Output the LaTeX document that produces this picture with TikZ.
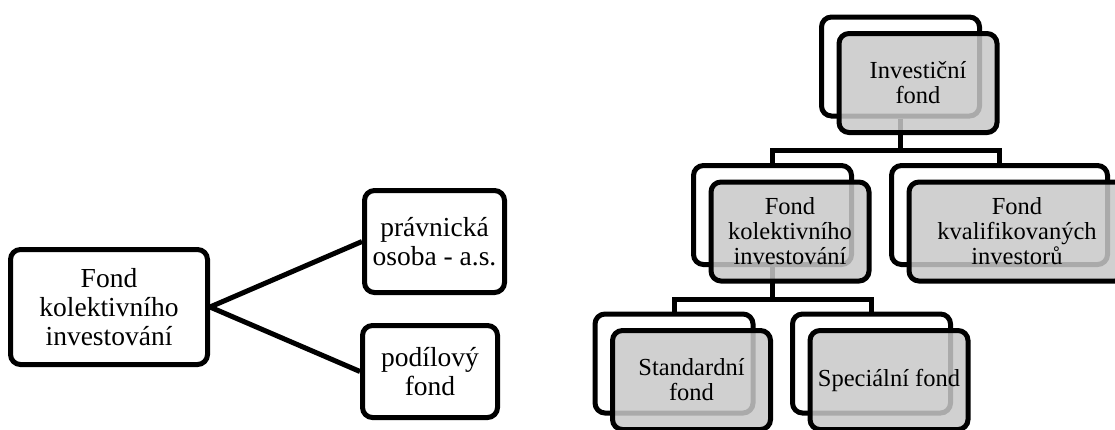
\documentclass[tikz,border=0pt]{standalone}
\usepackage{fontspec}
\setmainfont{Liberation Serif}
\begin{document}
\begin{tikzpicture}[x=1pt,y=-1pt,
  box/.style={draw, line width=5pt, rounded corners=10pt, inner sep=0pt, align=center},
  leftbox/.style={box, fill=white, font=\fontsize{27.5}{29}\selectfont},
  backbox/.style={box, minimum width=158pt, minimum height=99pt},
  frontbox/.style={box, minimum width=158pt, minimum height=99pt,
    fill={rgb,255:red,200;green,200;blue,200}, fill opacity=0.85, text opacity=1,
    font=\fontsize{24.5}{25}\selectfont},
  conn/.style={line width=5pt}]
\clip (0,0) rectangle (1115,429);
% left diagram
\node[leftbox, minimum width=197pt, minimum height=115pt] (fki) at (109,307) {Fond\\kolektivního\\investování};
\node[leftbox, minimum width=140pt, minimum height=102pt] (po) at (434.5,241.5) {právnická\\osoba - a.s.};
\node[leftbox, minimum width=135pt, minimum height=92pt] (pf) at (430,371.5) {podílový\\fond};
\draw[conn] (fki.east) -- (po.west);
\draw[conn] (fki.east) -- (pf.west);
% right diagram: back boxes
\node[backbox] (b1) at (900.5,66.5) {};
\node[backbox] (b2) at (772.5,215) {};
\node[backbox, minimum width=216pt] (b3) at (999.5,215) {};
\node[backbox] (b4) at (674,363.5) {};
\node[backbox] (b5) at (871.5,363.5) {};
% connectors
\draw[conn] (b1.south) -- ++(0,32) -| (b2.north);
\draw[conn] (b1.south) -- ++(0,32) -| (b3.north);
\draw[conn] (b2.south) -- ++(0,32.5) -| (b4.north);
\draw[conn] (b2.south) -- ++(0,32.5) -| (b5.north);
% front boxes
\node[frontbox] (f1) at (918,83) {Investiční\\fond};
\node[frontbox] (f2) at (790,231.5) {Fond\\kolektivního\\investování};
\node[frontbox, minimum width=216pt] (f3) at (1017,231.5) {Fond\\kvalifikovaných\\investorů};
\node[frontbox] (f4) at (691.5,380) {Standardní\\fond};
\node[frontbox] (f5) at (889,380) {Speciální fond};
\end{tikzpicture}
\end{document}
